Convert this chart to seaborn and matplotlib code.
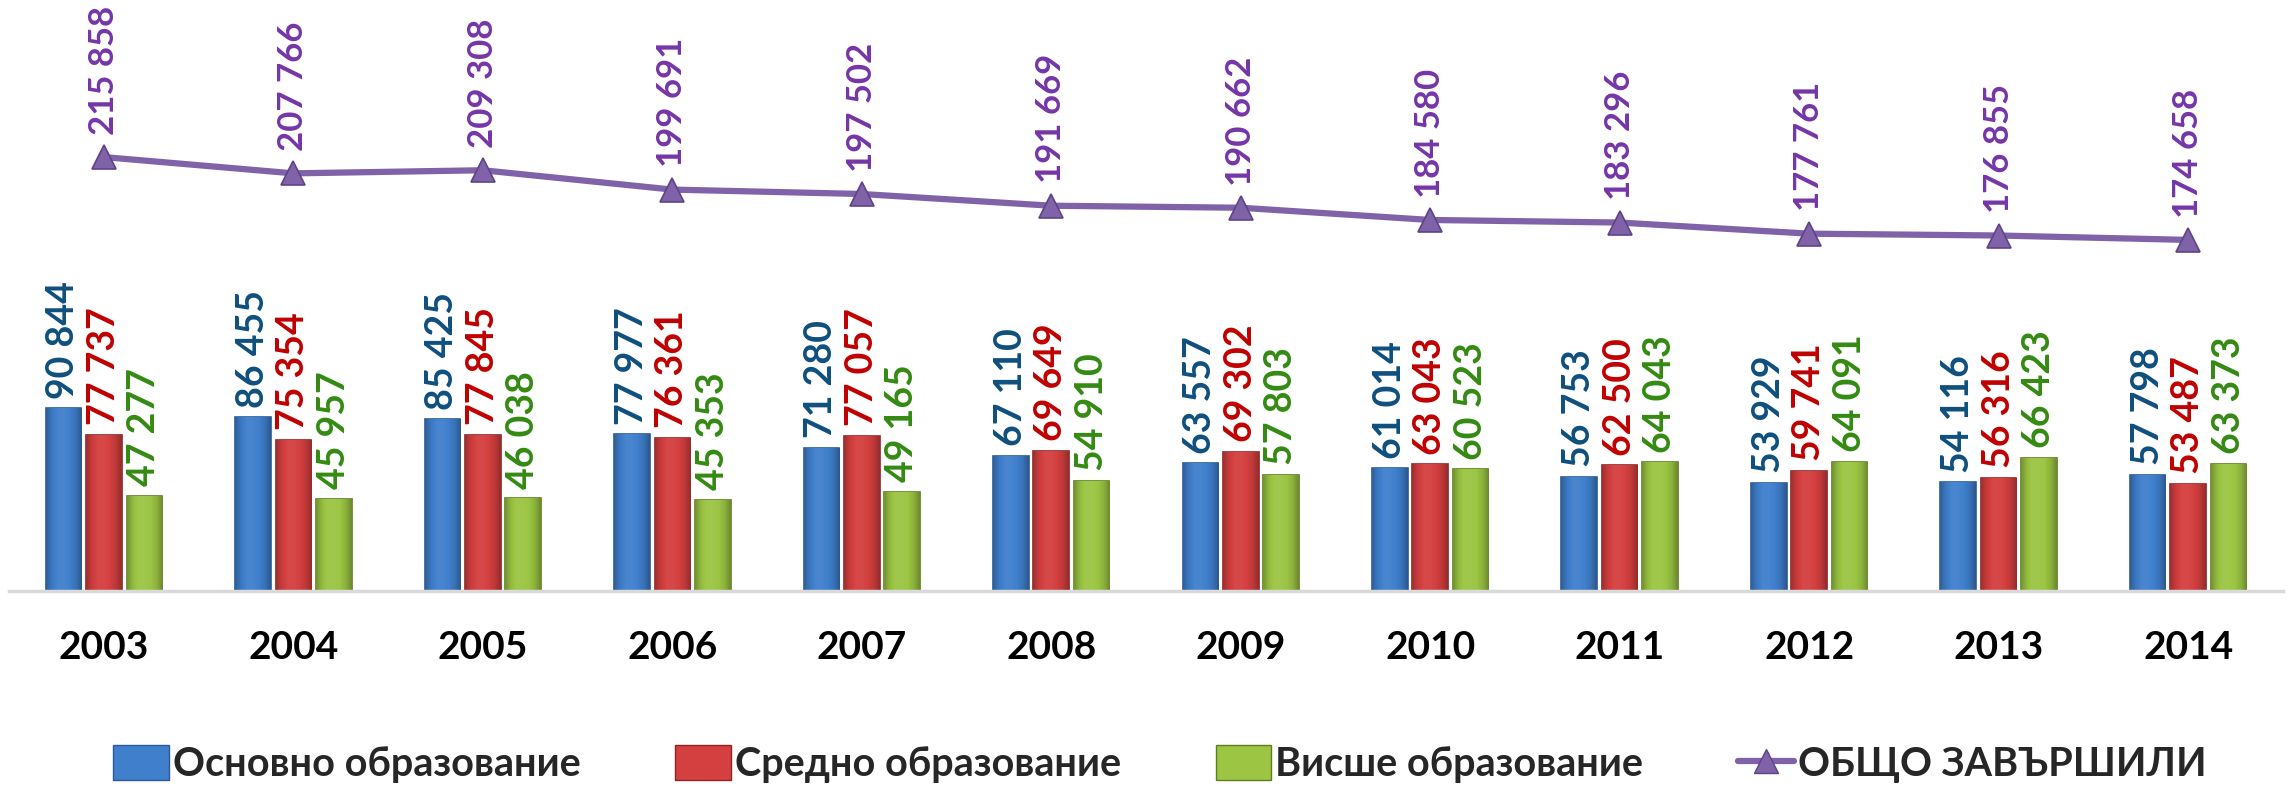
import numpy as np
import pandas as pd
import matplotlib
matplotlib.use("Agg")
import matplotlib.pyplot as plt
import matplotlib.colors as mcolors
import seaborn as sns
from matplotlib.patches import Patch
from matplotlib.lines import Line2D

years = ["2003", "2004", "2005", "2006", "2007", "2008", "2009", "2010", "2011", "2012", "2013", "2014"]
basic = [90844, 86455, 85425, 77977, 71280, 67110, 63557, 61014, 56753, 53929, 54116, 57798]
secondary = [77737, 75354, 77845, 76361, 77057, 69649, 69302, 63043, 62500, 59741, 56316, 53487]
higher = [47277, 45957, 46038, 45353, 49165, 54910, 57803, 60523, 64043, 64091, 66423, 63373]
total = [215858, 207766, 209308, 199691, 197502, 191669, 190662, 184580, 183296, 177761, 176855, 174658]
series_names = ["Основно образование", "Средно образование", "Висше образование"]
total_name = "ОБЩО ЗАВЪРШИЛИ"

bar_colors = ["#3F7FCC", "#D43F3F", "#9BC543"]
edge_colors = ["#2B5A96", "#8E2424", "#5E7D1F"]
label_colors = ["#0E4F7E", "#C00000", "#338A12"]
line_color = "#7F62A8"
line_label_color = "#7535A8"

sns.set_theme(style="white")
plt.rcParams["font.family"] = ["Lato", "DejaVu Sans"]

df = pd.DataFrame({
    "year": years * 3,
    "value": basic + secondary + higher,
    "series": [series_names[0]] * 12 + [series_names[1]] * 12 + [series_names[2]] * 12,
})

fig = plt.figure(figsize=(22.92, 7.87), dpi=100)
ax = fig.add_axes([0.004, 0.249, 0.992, 0.751])

sns.barplot(data=df, x="year", y="value", hue="series", order=years,
            hue_order=series_names, palette=bar_colors, width=0.64, gap=0.12,
            ax=ax, legend=False, errorbar=None, saturation=1)

ax.set_ylim(0, 294000)
ax.set_xlim(-0.5, 11.5)


def shade(c, f):
    r, g, b = mcolors.to_rgb(c)
    if f >= 0:
        return (r + (1 - r) * f, g + (1 - g) * f, b + (1 - b) * f)
    return (r * (1 + f), g * (1 + f), b * (1 + f))


for i, cont in enumerate(ax.containers):
    base = bar_colors[i]
    prof = np.array([-0.25, -0.05, 0.05, 0.05, 0.0, -0.1, -0.3])
    xs = np.linspace(0, 1, len(prof))
    xx = np.linspace(0, 1, 64)
    fvals = np.interp(xx, xs, prof)
    grad = np.array([[shade(base, f) for f in fvals]])
    for p in cont:
        p.set_edgecolor(edge_colors[i])
        p.set_linewidth(1.2)
        x0, y0 = p.get_x(), p.get_y()
        w, h = p.get_width(), p.get_height()
        im = ax.imshow(grad, extent=(x0, x0 + w, y0, y0 + h), aspect="auto",
                       origin="lower", zorder=p.get_zorder() + 0.1, interpolation="bilinear")
        im.set_clip_path(p)
    labels = [f"{int(v):,}".replace(",", " ") for v in cont.datavalues]
    ax.bar_label(cont, labels=labels, rotation=90, padding=7, fontsize=27,
                 fontweight="bold", color=label_colors[i])

sns.pointplot(x=years, y=total, color=line_color, markers="^", linestyles="-",
              markersize=17, linewidth=4.5, ax=ax, errorbar=None)
for line in ax.lines:
    line.set_markeredgecolor("#5E4487")
    line.set_markeredgewidth(1.2)
    line.set_zorder(5)

for i, v in enumerate(total):
    ax.annotate(f"{v:,}".replace(",", " "), xy=(i, v), xytext=(0, 16),
                textcoords="offset points", rotation=90, ha="center", va="bottom",
                fontsize=25, fontweight="bold", color=line_label_color)

ax.set_ylim(0, 294000)
ax.set_xlim(-0.5, 11.5)
ax.set_xlabel("")
ax.set_ylabel("")
ax.set_yticks([])
for s in ["top", "left", "right"]:
    ax.spines[s].set_visible(False)
ax.spines["bottom"].set_color("#D9D9D9")
ax.spines["bottom"].set_linewidth(2.5)
ax.tick_params(axis="x", length=0, pad=28, labelsize=28)
for t in ax.get_xticklabels():
    t.set_fontweight("bold")
    t.set_color("black")

handles = [Patch(facecolor=bar_colors[i], edgecolor=edge_colors[i], label=series_names[i]) for i in range(3)]
handles.append(Line2D([0], [0], color=line_color, lw=4.5, marker="^", markersize=17,
                      markeredgecolor="#5E4487", label=total_name))
fig.legend(handles=handles, loc="center", bbox_to_anchor=(0.506, 0.029), ncol=4,
           frameon=False, prop={"size": 28.5, "weight": "bold"}, handlelength=1.4,
           handleheight=1.0, handletextpad=0.1, columnspacing=2.4)

fig.savefig("out.png", dpi=100)
